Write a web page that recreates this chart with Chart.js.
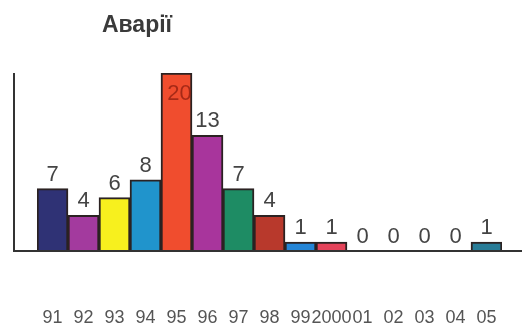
<!DOCTYPE html>
<html>
<head>
<meta charset="utf-8">
<script src="https://cdn.jsdelivr.net/npm/chart.js@4/dist/chart.umd.min.js"></script>
<style>
  html, body { margin:0; padding:0; background:#fff; }
  #wrap { width:522px; height:329px; position:relative; }
</style>
</head>
<body>
<div id="wrap"><canvas id="chart" width="522" height="329"></canvas></div>
<script>
const titleText = 'Аварії';
const years = ['91','92','93','94','95','96','97','98','99','2000','01','02','03','04','05'];
const accidents = [7, 4, 6, 8, 20, 13, 7, 4, 1, 1, 0, 0, 0, 0, 1];
const barColors = ['#2f3275','#a33a9e','#f7f01e','#2094cc','#f04d2e','#a8359c','#1e8c64','#b8392c',
                   '#2585d6','#e5435a','#3a6a8a','#3a6a8a','#3a6a8a','#3a6a8a','#287c97'];

const FONT = '"Liberation Sans", Arial, sans-serif';

// axes, title, year labels and the number over each bar
const decor = {
  id: 'decor',
  afterDatasetsDraw(chart){
    const {ctx, chartArea, scales} = chart;
    const meta = chart.getDatasetMeta(0);
    const top = Math.max(...accidents);
    ctx.save();
    ctx.textAlign = 'center';
    ctx.textBaseline = 'alphabetic';

    ctx.font = '22px ' + FONT;
    meta.data.forEach((bar, i) => {
      const v = accidents[i];
      if(v === top){
        ctx.fillStyle = 'rgba(140,30,15,0.75)';
        ctx.fillText(String(v), bar.x + 3, bar.y + 27);
      } else {
        ctx.fillStyle = '#444';
        ctx.fillText(String(v), bar.x, bar.y - 8);
      }
    });

    // year labels well below the baseline
    ctx.font = '18px ' + FONT;
    ctx.fillStyle = '#555';
    years.forEach((y, i) => {
      ctx.fillText(y, scales.x.getPixelForTick(i), chartArea.bottom + 72);
    });

    // axis lines
    const axisX = chartArea.left - 23;
    ctx.strokeStyle = '#333';
    ctx.lineWidth = 2;
    ctx.beginPath();
    ctx.moveTo(axisX, chartArea.top);
    ctx.lineTo(axisX, chartArea.bottom);
    ctx.lineTo(chart.width, chartArea.bottom);
    ctx.stroke();

    ctx.fillStyle = '#3a3a3a';
    ctx.font = 'bold 23px ' + FONT;
    ctx.fillText(titleText, 137, 32);
    ctx.restore();
  }
};

new Chart(document.getElementById('chart'), {
  type: 'bar',
  data: {
    labels: years,
    datasets: [{
      data: accidents,
      backgroundColor: barColors,
      borderColor: '#2b2222',
      borderWidth: 2,
      categoryPercentage: 1,
      barPercentage: 1
    }]
  },
  options: {
    responsive: false,
    animation: false,
    layout: { padding: { top: 73, left: 37, right: 20, bottom: 78 } },
    plugins: { legend: { display: false }, tooltip: { enabled: false } },
    scales: {
      x: {
        grid: { display: false, drawTicks: false },
        border: { display: false },
        ticks: { display: false }
      },
      y: { display: false, min: 0, max: 20 }
    }
  },
  plugins: [decor]
});
</script>
</body>
</html>
